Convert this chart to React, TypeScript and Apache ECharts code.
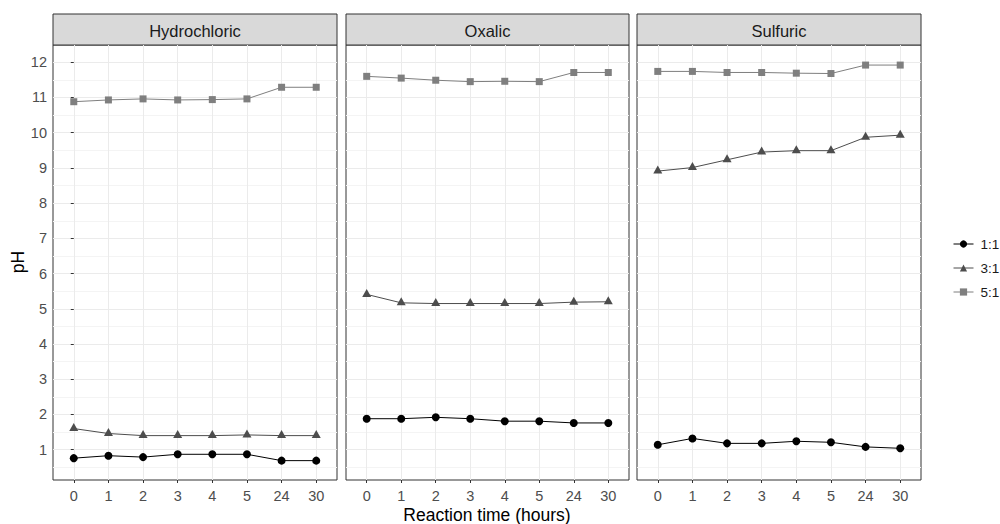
import React, { useEffect, useRef } from 'react';
import * as echarts from 'echarts';

const categories = ['0', '1', '2', '3', '4', '5', '24', '30'];
const panelNames = ['Hydrochloric', 'Oxalic', 'Sulfuric'];
const ratioNames = ['1:1', '3:1', '5:1'];

const hydrochloric11 = [0.76, 0.83, 0.79, 0.87, 0.87, 0.87, 0.69, 0.69];
const hydrochloric31 = [1.6, 1.46, 1.4, 1.4, 1.4, 1.42, 1.4, 1.4];
const hydrochloric51 = [10.88, 10.93, 10.96, 10.93, 10.94, 10.96, 11.29, 11.29];

const oxalic11 = [1.88, 1.88, 1.92, 1.88, 1.81, 1.81, 1.76, 1.76];
const oxalic31 = [5.41, 5.17, 5.15, 5.15, 5.15, 5.15, 5.19, 5.2];
const oxalic51 = [11.6, 11.55, 11.49, 11.45, 11.46, 11.45, 11.71, 11.71];

const sulfuric11 = [1.14, 1.32, 1.18, 1.18, 1.24, 1.21, 1.08, 1.04];
const sulfuric31 = [8.91, 9.01, 9.23, 9.45, 9.49, 9.49, 9.87, 9.93];
const sulfuric51 = [11.74, 11.74, 11.71, 11.71, 11.69, 11.68, 11.92, 11.92];

const yTickValues = [1, 2, 3, 4, 5, 6, 7, 8, 9, 10, 11, 12];
const yMinorValues = [0.5, 1.5, 2.5, 3.5, 4.5, 5.5, 6.5, 7.5, 8.5, 9.5, 10.5, 11.5, 12.5];
const xTickValues = [0, 1, 2, 3, 4, 5, 6, 7];

const FONT = 'Liberation Sans, Arial, sans-serif';

export default function App() {
  const ref = useRef<HTMLDivElement>(null);

  useEffect(() => {
    const chart = echarts.init(ref.current!, null, { renderer: 'svg' });
    const panelData = [
      [hydrochloric11, hydrochloric31, hydrochloric51],
      [oxalic11, oxalic31, oxalic51],
      [sulfuric11, sulfuric31, sulfuric51],
    ];
    const lefts = [53, 346, 637];
    const widths = [284, 283, 284];
    const top = 45;
    const height = 435;
    const yMin = 0.14;
    const yMax = 12.49;
    const colors = ['#000000', '#4d4d4d', '#7f7f7f'];
    const symbols = ['circle', 'triangle', 'rect'];
    const symbolSizes: any[] = [8, [9, 8], 7];
    const symbolOffsets: any[] = [[0, 0], [0, -1.5], [0, 0]];

    const grid = lefts.map((l, i) => ({
      left: l,
      top,
      width: widths[i],
      height,
      show: true,
      borderColor: '#333333',
      borderWidth: 1,
      backgroundColor: '#ffffff',
    }));

    const xAxis = lefts.map((_, i) => ({
      type: 'value',
      gridIndex: i,
      min: -0.6,
      max: 7.6,
      axisLine: { show: false },
      axisTick: { show: true, length: 3, lineStyle: { color: '#333333' }, customValues: xTickValues },
      axisLabel: {
        show: true,
        margin: 8,
        color: '#4d4d4d',
        fontSize: 14.5,
        fontFamily: FONT,
        customValues: xTickValues,
        formatter: (v: number) => categories[Math.round(v)] ?? '',
      },
      splitLine: { show: true, lineStyle: { color: '#ebebeb', width: 1 } },
    }));

    const yAxis: any[] = [];
    lefts.forEach((_, i) => {
      yAxis.push({
        type: 'value',
        gridIndex: i,
        min: yMin,
        max: yMax,
        position: 'left',
        axisLine: { show: false },
        axisTick: { show: i === 0, length: 3, lineStyle: { color: '#333333' }, customValues: yTickValues },
        axisLabel: {
          show: i === 0,
          margin: 6,
          color: '#4d4d4d',
          fontSize: 14.5,
          fontFamily: FONT,
          customValues: yTickValues,
        },
        splitLine: { show: true, lineStyle: { color: '#ebebeb', width: 1 } },
        z: 1,
      });
    });
    lefts.forEach((_, i) => {
      yAxis.push({
        type: 'value',
        gridIndex: i,
        min: yMin,
        max: yMax,
        position: 'right',
        axisLine: { show: false },
        axisTick: { show: false, customValues: yMinorValues },
        axisLabel: { show: false, customValues: yMinorValues },
        splitLine: { show: true, lineStyle: { color: '#f4f4f4', width: 1 } },
        z: 0,
      });
    });

    const series: any[] = [];
    panelData.forEach((group, gi) => {
      group.forEach((vals, si) => {
        series.push({
          type: 'line',
          name: ratioNames[si],
          xAxisIndex: gi,
          yAxisIndex: gi,
          data: vals.map((v, k) => [k, v]),
          symbol: symbols[si],
          symbolSize: symbolSizes[si],
          symbolOffset: symbolOffsets[si],
          showSymbol: true,
          color: colors[si],
          itemStyle: { color: colors[si] },
          lineStyle: { color: colors[si], width: 1 },
          z: 5,
        });
      });
    });

    const graphic: any[] = [];
    lefts.forEach((l, i) => {
      graphic.push({
        type: 'rect',
        shape: { x: l, y: 14, width: widths[i], height: 31 },
        style: { fill: '#d9d9d9', stroke: '#333333', lineWidth: 1 },
      });
      graphic.push({
        type: 'text',
        x: l + widths[i] / 2,
        y: 30.5,
        style: {
          text: panelNames[i],
          fill: '#1a1a1a',
          font: `16.5px ${FONT}`,
          textAlign: 'center',
          textVerticalAlign: 'middle',
        },
      });
    });
    graphic.push({
      type: 'text',
      x: 487,
      y: 515,
      style: {
        text: 'Reaction time (hours)',
        fill: '#000000',
        font: `17.5px ${FONT}`,
        textAlign: 'center',
        textVerticalAlign: 'middle',
      },
    });
    graphic.push({
      type: 'text',
      x: 18,
      y: 262,
      rotation: Math.PI / 2,
      style: {
        text: 'pH',
        fill: '#000000',
        font: `17.5px ${FONT}`,
        textAlign: 'center',
        textVerticalAlign: 'middle',
      },
    });

    chart.setOption({
      animation: false,
      backgroundColor: '#ffffff',
      grid,
      xAxis,
      yAxis,
      series,
      graphic,
      legend: {
        data: ratioNames,
        orient: 'vertical',
        left: 948,
        top: 232,
        itemWidth: 20,
        itemHeight: 9,
        itemGap: 10,
        lineStyle: { width: 1 },
        textStyle: { fontSize: 13.5, color: '#1a1a1a', fontFamily: FONT, padding: [0, 0, 0, 2] },
      },
    });
    return () => chart.dispose();
  }, []);

  return <div ref={ref} style={{ position: 'absolute', left: 0, top: 0, width: 1000, height: 524 }} />;
}
